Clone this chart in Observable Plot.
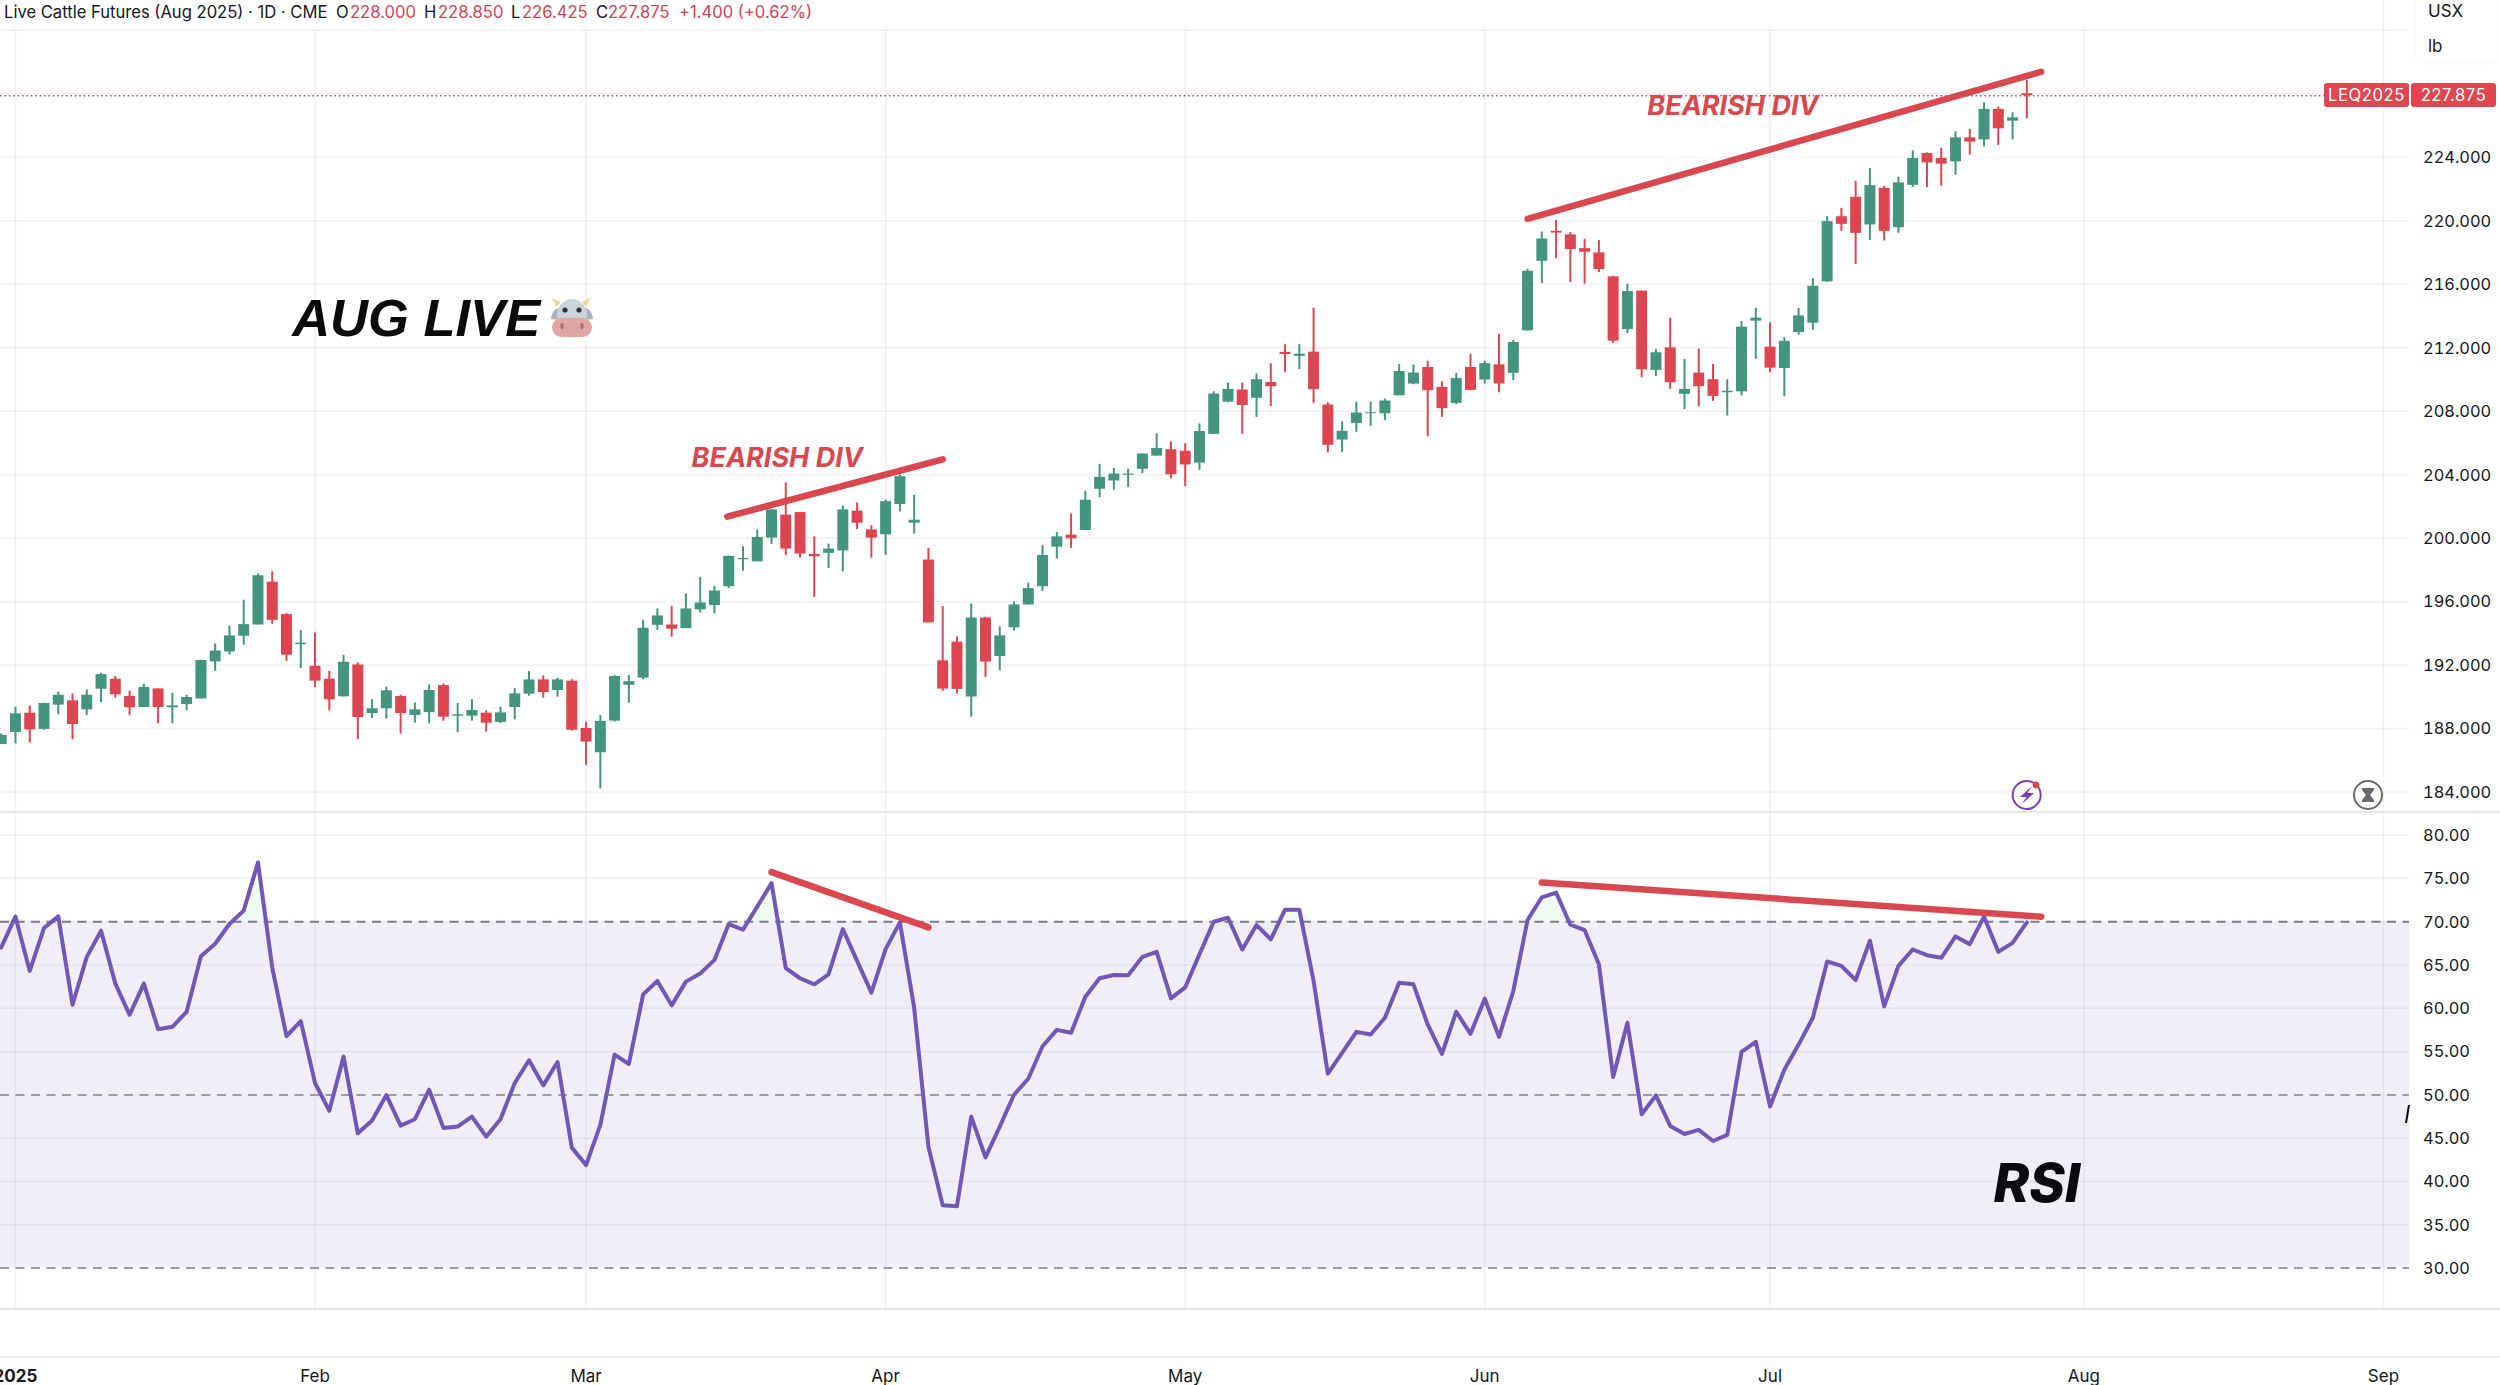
<!DOCTYPE html>
<html>
<head>
<meta charset="utf-8">
<script src="https://cdn.jsdelivr.net/npm/d3@7"></script>
<script src="https://cdn.jsdelivr.net/npm/@observablehq/plot@0.6"></script>
<style>
html,body{margin:0;padding:0;background:#fff;width:2500px;height:1385px;overflow:hidden;font-family:Inter,"Noto Sans",sans-serif}
#page{position:relative;width:2500px;height:1385px;overflow:hidden}
.pane{position:absolute;left:0}
.pane svg{display:block}
.sep{position:absolute;left:0;width:2500px;height:2px;background:#e4e6ea}
#topstrip{position:absolute;left:0;top:0;width:2100px;height:29px;background:#fff}
#header{position:absolute;left:4px;top:0;height:24px;line-height:24px;font-size:16.6px;color:#131722;white-space:nowrap}
#header span{position:absolute;top:0}
#header .v{color:#cf4455}
#unit{position:absolute;left:2416px;top:-6px;width:81px;height:69px;background:#fff;border-radius:8px;box-shadow:0 0 3px rgba(0,0,0,.07);font-size:17px;color:#131722}
#unit div{position:absolute;left:12px}
.tag{position:absolute;height:24px;line-height:24px;background:#df4650;color:#fff;font-size:16.6px;text-align:center;letter-spacing:.6px;border-radius:3px}
.icon{position:absolute}
</style>
</head>
<body>
<div id="page"></div>
<script>
const opens=[187.00,187.76,188.97,187.95,189.48,189.75,189.18,190.48,191.11,190.02,
189.33,190.50,189.31,189.52,189.87,192.20,192.83,193.82,194.53,197.23,
195.18,193.29,191.93,191.11,190.00,192.01,188.95,189.25,190.02,188.83,
189.01,190.71,188.78,188.78,188.97,188.39,189.33,190.17,191.07,190.40,
190.99,188.01,186.48,188.47,190.73,191.18,194.51,194.53,194.30,195.48,
195.75,196.94,198.64,198.51,200.00,201.45,201.61,198.97,199.04,199.20,
201.70,200.52,200.21,202.12,200.94,198.62,192.27,193.45,189.99,194.97,
192.54,194.35,195.79,196.94,199.43,200.19,200.48,203.08,203.60,203.96,
204.34,205.17,205.57,205.47,204.73,206.54,208.57,209.33,208.81,209.81,
211.70,211.45,211.72,208.39,206.18,207.23,207.84,207.84,208.97,209.71,
210.75,209.50,208.49,210.75,209.96,210.92,210.38,213.06,217.44,219.33,
219.10,218.24,217.97,216.46,213.14,215.56,210.57,211.99,209.06,210.40,
209.98,209.16,209.22,213.67,212.03,210.69,212.95,213.54,216.15,220.25,
221.47,219.73,222.04,219.56,222.23,224.23,223.92,223.71,225.22,225.09,
227.01,226.27,228.00];
const closes=[187.57,188.93,187.92,189.58,190.10,188.26,190.10,191.40,190.13,189.31,
190.59,189.33,189.43,189.96,192.29,192.89,193.84,194.55,197.63,194.82,
192.62,193.38,190.99,189.81,192.18,188.70,189.25,190.38,188.95,189.18,
190.40,188.72,188.87,189.14,188.34,188.99,190.19,191.07,190.27,191.07,
187.90,187.15,188.45,191.28,190.96,194.32,195.10,194.26,195.54,195.92,
196.67,198.85,198.72,200.04,201.78,199.31,199.00,198.83,199.31,201.78,
200.94,200.00,202.30,203.87,201.13,194.66,190.49,190.47,194.97,192.19,
193.84,195.79,196.82,198.91,200.08,199.96,202.39,203.83,204.04,204.04,
205.30,205.65,204.00,204.61,206.72,209.08,209.37,208.36,209.98,209.54,
211.57,211.59,209.35,205.85,206.73,207.88,207.90,208.64,210.50,210.40,
209.29,208.16,210.06,209.31,210.99,209.71,212.33,216.81,218.85,219.22,
218.18,218.01,216.92,212.41,215.53,210.61,211.68,209.79,209.37,209.54,
208.93,209.25,213.29,213.86,210.71,212.40,214.00,215.87,219.94,219.77,
219.20,222.21,219.33,222.38,223.92,223.64,223.56,225.22,224.95,227.01,
225.79,226.48,227.875];
const highs=[187.67,189.35,189.43,189.60,190.29,190.19,190.44,191.49,191.28,190.36,
190.80,190.50,190.23,190.10,192.31,193.33,194.47,196.10,197.74,197.88,
195.26,194.17,194.02,191.61,192.62,192.14,189.81,190.61,190.10,189.62,
190.75,190.82,189.58,189.83,189.12,189.35,190.52,191.59,191.32,191.17,
191.09,188.41,188.83,191.34,191.34,194.81,195.54,195.71,196.48,197.53,
196.96,198.87,199.46,200.52,201.80,203.48,201.63,200.08,199.62,202.03,
202.22,200.78,202.39,203.98,202.70,199.35,195.69,193.78,195.85,195.02,
194.41,195.98,197.17,199.54,200.36,201.53,202.95,204.65,204.40,204.34,
205.30,206.58,206.07,205.95,207.20,209.22,209.77,209.77,210.34,210.99,
212.18,212.18,214.49,208.53,207.32,208.57,208.57,208.76,210.94,210.90,
211.15,209.85,210.38,211.59,211.15,212.85,212.47,216.94,219.29,220.02,
219.25,218.83,218.76,216.50,216.00,215.56,211.89,213.86,211.26,211.91,
210.94,209.98,213.65,214.49,213.58,212.63,214.48,216.36,220.25,220.78,
222.48,223.28,222.17,222.74,224.40,224.27,224.57,225.60,225.75,227.43,
227.16,226.80,228.85];
const lows=[187.00,187.04,187.09,187.90,188.87,187.30,188.83,189.64,189.92,188.83,
189.33,188.30,188.30,189.12,189.87,191.61,192.64,193.25,194.53,194.57,
192.24,191.78,190.57,189.12,190.00,187.30,188.64,188.60,187.65,188.34,
188.30,188.47,187.74,188.47,187.78,188.30,188.55,190.04,189.92,189.98,
187.84,185.68,184.19,188.41,189.60,191.08,194.18,193.76,194.30,195.27,
195.23,196.82,197.91,198.51,199.60,198.91,198.74,196.27,198.09,197.89,
200.54,198.74,198.91,201.65,200.25,194.66,190.35,190.18,188.71,191.23,
191.64,194.14,195.79,196.65,198.68,199.35,200.48,202.55,203.02,203.18,
204.06,205.17,203.73,203.25,204.27,206.54,208.53,206.54,207.61,208.30,
210.44,210.61,208.49,205.37,205.41,206.67,207.04,207.40,208.97,209.66,
206.39,207.61,208.41,209.29,209.71,209.16,209.92,213.06,216.04,217.61,
216.10,216.00,216.73,212.26,212.89,210.10,210.19,209.39,208.09,208.26,
208.62,207.69,208.95,211.26,210.42,208.90,212.78,213.09,216.11,219.33,
217.24,218.76,218.72,219.20,222.08,222.08,222.17,222.86,224.13,224.65,
224.74,225.09,226.425];
const rsiValues=[67.02,70.58,64.32,69.27,70.62,60.41,65.94,68.96,62.85,59.25,
62.85,57.59,57.86,59.60,66.02,67.45,69.73,71.28,76.84,64.70,
56.78,58.52,51.37,48.16,54.42,45.57,47.04,49.98,46.46,47.19,
50.60,46.19,46.34,47.50,45.18,47.19,51.37,54.00,51.10,53.80,
43.91,41.90,46.54,54.65,53.57,61.61,63.16,60.34,63.08,64.01,
65.59,69.73,69.07,71.74,74.45,64.63,63.47,62.77,63.93,69.15,
65.48,61.81,66.83,69.92,60.07,44.02,37.26,37.14,47.50,42.79,
46.34,50.02,51.87,55.62,57.51,57.17,61.34,63.47,63.85,63.82,
65.94,66.52,61.15,62.42,66.25,70.00,70.46,66.79,69.61,67.95,
71.39,71.39,63.16,52.45,54.85,57.28,56.97,58.91,62.96,62.77,
58.13,54.73,59.60,57.05,61.11,56.70,62.00,70.19,72.82,73.36,
69.65,69.03,65.09,52.06,58.33,47.77,49.94,46.42,45.49,45.96,
44.68,45.38,54.96,56.12,48.66,52.91,55.81,58.91,65.40,64.90,
63.27,67.80,60.22,64.90,66.79,66.13,65.83,68.30,67.41,70.58,
66.52,67.56,69.92];

const monthBars=[1,22,41,62,83,104,124,146,167];
const monthLabels=["2025","Feb","Mar","Apr","May","Jun","Jul","Aug","Sep"];
const priceTicks=[184,188,192,196,200,204,208,212,216,220,224];
const priceGrid=[...priceTicks,228,232];
const rsiTicks=[30,35,40,45,50,55,60,65,70,75,80];
const lastClose=227.875;
const symbol="LEQ2025";
const priceDivA=[{i:50.9,v:201.35},{i:66.0,v:204.96}];
const priceDivB=[{i:107.0,v:220.12},{i:143.0,v:229.38}];
const rsiDivA=[{i:54.0,v:75.72},{i:65.0,v:69.34}];
const rsiDivB=[{i:108.0,v:74.52},{i:143.0,v:70.58}];

const GREEN="#439580",RED="#dd4651",PURPLE="#7257b8",DIV="#d9474f";
const GRID={stroke:"#787b86",strokeOpacity:.1,strokeWidth:1.6};
const FONT='Inter,"Noto Sans",sans-serif';
const W=2500,RIGHT=91,STEP=14.265,X0=0.7;
const xScale={domain:[0,142],range:[X0,X0+142*STEP],type:"linear"};
const bars=opens.map((o,i)=>({i,o,c:closes[i],h:highs[i],l:lows[i],col:closes[i]>=o?GREEN:RED}));
const rsi=rsiValues.map((v,i)=>({i,v}));
const page=document.getElementById("page");
function mount(node,top){const d=document.createElement("div");d.className="pane";d.style.top=top+"px";d.appendChild(node);page.appendChild(d);return node;}
const base={width:W,marginLeft:0,marginRight:RIGHT,marginTop:0,marginBottom:0,style:{background:"transparent",fontFamily:FONT}};

const pricePlot=Plot.plot({...base,height:812,
  x:{...xScale,axis:null},
  y:{domain:[184,224],range:[791.6,156.7],axis:null},
  marks:[
    Plot.gridY(priceGrid,GRID),
    Plot.gridX(monthBars,GRID),
    Plot.ruleY([lastClose],{stroke:"#9c4650",strokeWidth:1.6,strokeDasharray:"1.6 2.8",strokeOpacity:.9}),
    Plot.ruleX(bars,{x:"i",y1:"l",y2:"h",stroke:"col",strokeWidth:2}),
    Plot.ruleX(bars,{x:"i",y1:"o",y2:"c",stroke:"col",strokeWidth:11}),
    Plot.line(priceDivA,{x:"i",y:"v",stroke:DIV,strokeWidth:6.5,strokeLinecap:"round"}),
    Plot.line(priceDivB,{x:"i",y:"v",stroke:DIV,strokeWidth:6.5,strokeLinecap:"round"}),
    Plot.text(["AUG LIVE"],{x:20.4,y:213.82,text:d=>d,textAnchor:"start",lineAnchor:"middle",fontSize:52.5,fontWeight:700,fontStyle:"italic",fontFamily:"Liberation Sans",fill:"#0a0a0a"}),
    Plot.text(["BEARISH DIV"],{x:54.4,y:205.03,text:d=>d,lineAnchor:"middle",fontSize:27,fontWeight:700,fontStyle:"italic",fontFamily:FONT,fill:DIV}),
    Plot.text(["BEARISH DIV"],{x:121.4,y:227.2,text:d=>d,lineAnchor:"middle",fontSize:27,fontWeight:700,fontStyle:"italic",fontFamily:FONT,fill:DIV}),
    Plot.axisY(priceTicks,{anchor:"right",tickSize:0,tickPadding:13.5,tickFormat:d=>d.toFixed(3),fontSize:16.4,dy:0.6,fill:"#131722",textAnchor:"start",label:null})
  ]});
mount(pricePlot,0);

const rsiPlot=Plot.plot({...base,height:497,
  x:{...xScale,axis:null},
  y:{domain:[30,80],range:[455.6,22.6],axis:null},
  marks:[
    Plot.rectY([{a:30,b:70}],{y1:"a",y2:"b",fill:"#f1eef8"}),
    Plot.gridY(rsiTicks.filter(d=>d!==30&&d!==50&&d!==70),GRID),
    Plot.gridX(monthBars,GRID),
    Plot.areaY(rsi,{x:"i",y1:70,y2:d=>Math.max(d.v,70),fill:"#f0f9f2"}),
    Plot.ruleY([70],{stroke:"#787b86",strokeWidth:2,strokeDasharray:"9 6.5"}),
    Plot.ruleY([50,30],{stroke:"#9a9ca6",strokeWidth:2,strokeDasharray:"9 6.5"}),
    Plot.line(rsi,{x:"i",y:"v",stroke:PURPLE,strokeWidth:4,strokeLinejoin:"round"}),
    Plot.line(rsiDivA,{x:"i",y:"v",stroke:DIV,strokeWidth:6.5,strokeLinecap:"round"}),
    Plot.line(rsiDivB,{x:"i",y:"v",stroke:DIV,strokeWidth:6.5,strokeLinecap:"round"}),
    Plot.text(["RSI"],{x:142.7,y:39.63,text:d=>d,lineAnchor:"middle",fontSize:54,fontWeight:800,fontStyle:"italic",fontFamily:FONT,fill:"#0a0a0f"}),
    Plot.axisY(rsiTicks,{anchor:"right",tickSize:0,tickPadding:13.5,tickFormat:d=>d.toFixed(2),fontSize:16.4,dy:0.6,fill:"#131722",textAnchor:"start",label:null})
  ]});
mount(rsiPlot,812);

const timePlot=Plot.plot({...base,height:76,marginBottom:9,
  x:{...xScale,axis:null},
  y:{axis:null},
  marks:[
    Plot.text(monthLabels.slice(1),{x:(d,k)=>monthBars[k+1],text:d=>d,frameAnchor:"bottom",lineAnchor:"middle",fontSize:17,fill:"#131722"}),
    Plot.text(monthLabels.slice(0,1),{x:()=>monthBars[0],text:d=>d,frameAnchor:"bottom",lineAnchor:"middle",fontSize:17,fontWeight:700,fill:"#131722"})
  ]});
mount(timePlot,1309);

for(const [t,c] of [[811,"#e4e6ea"],[1308,"#e4e6ea"],[1356,"#eceef1"]]){const s=document.createElement("div");s.className="sep";s.style.top=t+"px";s.style.background=c;page.appendChild(s);}

const strip=document.createElement("div");strip.id="topstrip";page.appendChild(strip);
const hdr=document.createElement("div");hdr.id="header";
const headerParts=[["Live Cattle Futures (Aug 2025) · 1D · CME",0,""],["O",332,""],["228.000",346,"v"],["H",420,""],["228.850",434,"v"],["L",507,""],["226.425",518,"v"],["C",592,""],["227.875",604,"v"],["+1.400 (+0.62%)",675,"v"]];
for(const [t,x,c] of headerParts){const s=document.createElement("span");s.textContent=t;s.style.left=x+"px";if(c)s.className=c;hdr.appendChild(s);}
page.appendChild(hdr);

const unit=document.createElement("div");unit.id="unit";
unit.innerHTML='<div style="top:7px">USX</div><div style="top:42px">lb</div>';
page.appendChild(unit);

const yLast=pricePlot.scale("y").apply(lastClose);
for(const [t,l,w] of [[symbol,2324,85],[lastClose.toFixed(3),2411,85]]){
  const s=document.createElement("div");s.className="tag";s.textContent=t;
  s.style.left=l+"px";s.style.width=w+"px";s.style.top=(yLast-12.5)+"px";page.appendChild(s);
}

const icons=document.createElement("div");
icons.innerHTML=`
<svg class="icon" style="left:2000px;top:770px" width="60" height="50" viewBox="0 0 60 50">
 <circle cx="26.7" cy="25" r="14" fill="#fff" stroke="#7b3fb0" stroke-width="2"/>
 <path d="M32 16 L20 27 L26.5 27 L22 34 L34 23 L27.5 23 Z" fill="#7b3fb0"/>
 <circle cx="36" cy="15" r="3.4" fill="#dd4651"/>
</svg>
<svg class="icon" style="left:2340px;top:770px" width="56" height="50" viewBox="0 0 56 50">
 <circle cx="28" cy="25" r="14" fill="#fff" stroke="#666a70" stroke-width="2"/>
 <path d="M22 18 H34 V20 L30 25 L34 30 V32 H22 V30 L26 25 L22 20 Z" fill="#666a70"/>
</svg>
<svg class="icon" style="left:2405px;top:1105px" width="6" height="18" viewBox="0 0 6 18">
 <path d="M3 0 H5 L2 18 H0 Z" fill="#0a0a0f"/>
</svg>
<svg class="icon" style="left:548px;top:293px" width="48" height="48" viewBox="0 0 48 48">
 <path d="M8 14 L4 5 L13 9 Z" fill="#eadb9c"/><path d="M38 14 L43 4 L34 9 Z" fill="#eadb9c"/>
 <path d="M3 26 Q4 17 10 15 L12 27 Z" fill="#a9b3bb"/><path d="M45 26 Q44 17 38 15 L36 27 Z" fill="#a9b3bb"/>
 <ellipse cx="24" cy="22" rx="15" ry="16" fill="#ccd5dc"/>
 <circle cx="17" cy="17" r="2.6" fill="#30343a"/><circle cx="31" cy="17" r="2.6" fill="#30343a"/>
 <rect x="4" y="25" width="40" height="19" rx="9.5" fill="#dfa6a3"/>
 <ellipse cx="14" cy="33" rx="1.6" ry="3.2" fill="#a86f6c"/><ellipse cx="34" cy="33" rx="1.6" ry="3.2" fill="#a86f6c"/>
</svg>`;
page.appendChild(icons);
</script>
</body>
</html>
